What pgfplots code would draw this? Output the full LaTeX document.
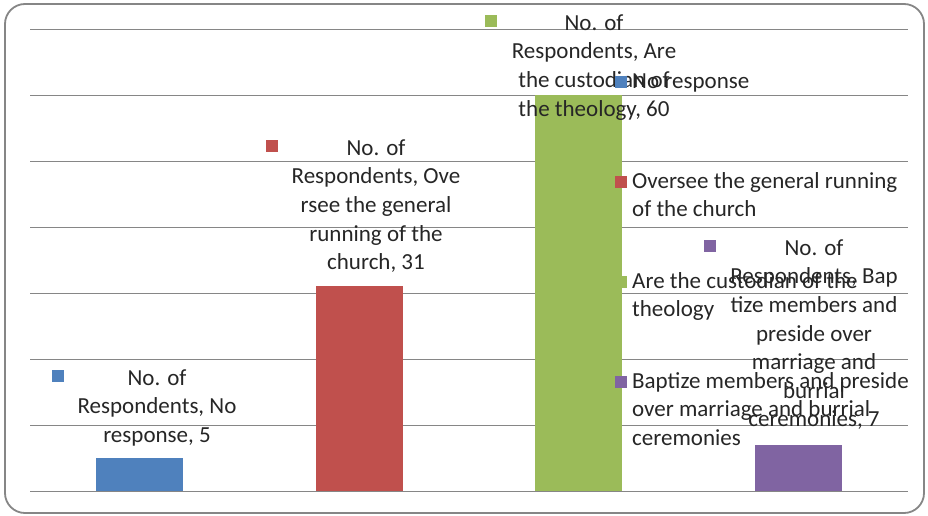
\documentclass[border=0pt]{standalone}
\usepackage{pgfplots}
\pgfplotsset{compat=1.18}
\usepackage{fontspec}
\setmainfont{Carlito}
\definecolor{cblue}{RGB}{79,129,189}
\definecolor{cred}{RGB}{192,80,77}
\definecolor{cgreen}{RGB}{155,187,89}
\definecolor{cpurple}{RGB}{128,100,162}
\definecolor{gridgray}{RGB}{134,134,134}
% legend keys: in data labels (raised) and in the legend
\newcommand{\lkey}[1]{\textcolor{#1}{\raisebox{3pt}{\rule{12pt}{12pt}}}}
\newcommand{\gkey}[1]{\textcolor{#1}{\raisebox{0.5pt}{\rule{12pt}{12pt}}}}

\begin{document}
\begin{tikzpicture}
\fontsize{23}{28.6}\selectfont
\useasboundingbox (0,0) rectangle (928pt,515pt);

\begin{axis}[
  at={(30pt,24pt)}, anchor=south west,
  width=878pt, height=462pt, scale only axis,
  xmin=-0.5, xmax=3.5, ymin=0, ymax=70,
  xtick=\empty, ytick={0,10,...,70}, yticklabels={},
  major tick length=0pt,
  ymajorgrids, grid style={gridgray, line width=0.9pt},
  axis line style={draw=none},
]
\addplot[ybar, bar width=87pt, bar shift=0pt, fill=cblue, draw=none] coordinates {(0,5)};
\addplot[ybar, bar width=87pt, bar shift=0pt, fill=cred, draw=none] coordinates {(1,31)};
\addplot[ybar, bar width=87pt, bar shift=0pt, fill=cgreen, draw=none] coordinates {(2,60)};
\addplot[ybar, bar width=87pt, bar shift=0pt, fill=cpurple, draw=none] coordinates {(3,7)};
\end{axis}

% pixel coordinates from the top-left corner
\begin{scope}[x=1pt, y=-1pt, shift={(0pt,515pt)}, every node/.style={inner sep=0pt, text=black!85}]
\draw[gridgray, line width=1.8pt, rounded corners=20pt] (5,4) rectangle (924,513);
% data labels
\node[anchor=north, align=center] at (157,365) {\strut\llap{\lkey{cblue}\hspace{64pt}}No. of\\Respondents, No\\response, 5};
\node[anchor=north, align=center] at (376,135) {\strut\llap{\lkey{cred}\hspace{69pt}}No. of\\Respondents, Ove\\rsee the general\\running of the\\church, 31};
\node[anchor=north, align=center] at (594,10) {\strut\llap{\lkey{cgreen}\hspace{68pt}}No. of\\Respondents, Are\\the custodian of\\the theology, 60};
\node[anchor=north, align=center] at (814,235) {\strut\llap{\lkey{cpurple}\hspace{69pt}}No. of\\Respondents, Bap\\tize members and\\preside over\\marriage and\\burrial\\ceremonies, 7};
% legend
\node[anchor=north west, align=left] at (615,68) {\strut\gkey{cblue}\hspace{5pt}No response};
\node[anchor=north west, align=left] at (615,168) {\strut\gkey{cred}\hspace{5pt}Oversee the general running\\\hspace*{17pt}of the church};
\node[anchor=north west, align=left] at (615,268) {\strut\gkey{cgreen}\hspace{5pt}Are the custodian of the\\\hspace*{17pt}theology};
\node[anchor=north west, align=left] at (615,368) {\strut\gkey{cpurple}\hspace{5pt}Baptize members and preside\\\hspace*{17pt}over marriage and burrial\\\hspace*{17pt}ceremonies};
\end{scope}
\end{tikzpicture}
\end{document}
